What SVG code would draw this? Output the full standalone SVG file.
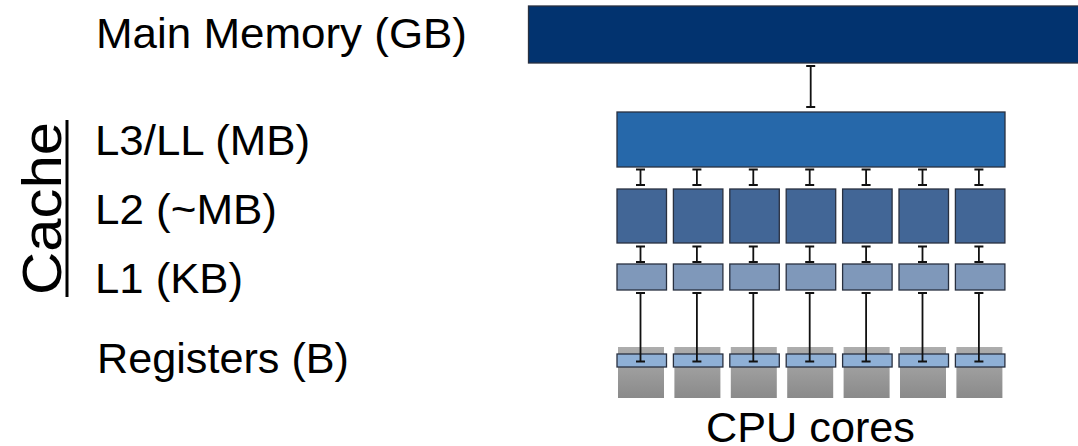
<svg xmlns="http://www.w3.org/2000/svg" width="1078" height="446" viewBox="0 0 1078 446">
  <defs>
    <linearGradient id="coreFill" x1="0" y1="0" x2="0" y2="1">
      <stop offset="0" stop-color="#adadad"/>
      <stop offset="1" stop-color="#8a8a8a"/>
    </linearGradient>
  </defs>
  <style>
    .lbl { font-family: "Liberation Sans", Arial, sans-serif; font-size: 42px; fill: #000; }
    .box { stroke: #283040; stroke-width: 1.3; }
    .mem { fill: #02336f; }
    .l3 { fill: #2668aa; }
    .l2 { fill: #426696; }
    .l1 { fill: #7f98ba; }
    .reg { fill: #8fb0d6; }
    .core { fill: url(#coreFill); }
    .link { stroke: #111; stroke-width: 1.8; fill: none; }
  </style>

  <rect width="1078" height="446" fill="#fff"/>

  <!-- level labels -->
  <g id="labels">
    <text class="lbl" x="96" y="48" textLength="371" lengthAdjust="spacingAndGlyphs">Main Memory (GB)</text>
    <text class="lbl" x="95" y="155" textLength="215" lengthAdjust="spacingAndGlyphs">L3/LL (MB)</text>
    <text class="lbl" x="95" y="224" textLength="182" lengthAdjust="spacingAndGlyphs">L2 (~MB)</text>
    <text class="lbl" x="95" y="293" textLength="148" lengthAdjust="spacingAndGlyphs">L1 (KB)</text>
    <text class="lbl" x="97" y="373" textLength="252" lengthAdjust="spacingAndGlyphs">Registers (B)</text>
    <text class="lbl" x="810.5" y="442" text-anchor="middle" textLength="209" lengthAdjust="spacingAndGlyphs">CPU cores</text>
  </g>

  <!-- vertical "Cache" bracket label -->
  <g id="cache-label">
    <text class="lbl" style="font-size:55px" transform="translate(61 208.5) rotate(-90)" text-anchor="middle" textLength="173" lengthAdjust="spacingAndGlyphs">Cache</text>
    <line x1="67" y1="120" x2="67" y2="297" stroke="#000" stroke-width="3"/>
  </g>

  <!-- main memory -->
  <g id="main-memory">
    <rect class="box mem" x="528.5" y="6" width="552" height="57"/>
  </g>

  <!-- shared last-level cache -->
  <g id="l3">
    <rect class="box l3" x="617" y="112" width="388" height="55"/>
  </g>

  <!-- per-core L2 -->
  <g id="l2">
    <rect class="box l2" x="617" y="189" width="49.5" height="54"/>
    <rect class="box l2" x="673.4" y="189" width="49.5" height="54"/>
    <rect class="box l2" x="729.8" y="189" width="49.5" height="54"/>
    <rect class="box l2" x="786.2" y="189" width="49.5" height="54"/>
    <rect class="box l2" x="842.6" y="189" width="49.5" height="54"/>
    <rect class="box l2" x="899" y="189" width="49.5" height="54"/>
    <rect class="box l2" x="955.4" y="189" width="49.5" height="54"/>
  </g>

  <!-- per-core L1 -->
  <g id="l1">
    <rect class="box l1" x="617" y="264" width="49.5" height="26"/>
    <rect class="box l1" x="673.4" y="264" width="49.5" height="26"/>
    <rect class="box l1" x="729.8" y="264" width="49.5" height="26"/>
    <rect class="box l1" x="786.2" y="264" width="49.5" height="26"/>
    <rect class="box l1" x="842.6" y="264" width="49.5" height="26"/>
    <rect class="box l1" x="899" y="264" width="49.5" height="26"/>
    <rect class="box l1" x="955.4" y="264" width="49.5" height="26"/>
  </g>

  <!-- CPU cores -->
  <g id="cores">
    <rect class="core" x="618" y="347" width="46" height="51"/>
    <rect class="core" x="674.4" y="347" width="46" height="51"/>
    <rect class="core" x="730.8" y="347" width="46" height="51"/>
    <rect class="core" x="787.2" y="347" width="46" height="51"/>
    <rect class="core" x="843.6" y="347" width="46" height="51"/>
    <rect class="core" x="900" y="347" width="46" height="51"/>
    <rect class="core" x="956.4" y="347" width="46" height="51"/>
  </g>

  <!-- registers -->
  <g id="registers">
    <rect class="box reg" x="617" y="354" width="49.5" height="13"/>
    <rect class="box reg" x="673.4" y="354" width="49.5" height="13"/>
    <rect class="box reg" x="729.8" y="354" width="49.5" height="13"/>
    <rect class="box reg" x="786.2" y="354" width="49.5" height="13"/>
    <rect class="box reg" x="842.6" y="354" width="49.5" height="13"/>
    <rect class="box reg" x="899" y="354" width="49.5" height="13"/>
    <rect class="box reg" x="955.4" y="354" width="49.5" height="13"/>
  </g>

  <!-- I-beam links between levels -->
  <g id="connectors" class="link">
    <path d="M810.7 66V107M806.2 66H815.2M806.2 107H815.2"/>

    <path d="M640.5 169.5V185M636 169.5H645M636 185H645"/>
    <path d="M696.9 169.5V185M692.4 169.5H701.4M692.4 185H701.4"/>
    <path d="M753.3 169.5V185M748.8 169.5H757.8M748.8 185H757.8"/>
    <path d="M809.7 169.5V185M805.2 169.5H814.2M805.2 185H814.2"/>
    <path d="M866.1 169.5V185M861.6 169.5H870.6M861.6 185H870.6"/>
    <path d="M922.5 169.5V185M918 169.5H927M918 185H927"/>
    <path d="M978.9 169.5V185M974.4 169.5H983.4M974.4 185H983.4"/>

    <path d="M640.5 246.5V262M636 246.5H645M636 262H645"/>
    <path d="M696.9 246.5V262M692.4 246.5H701.4M692.4 262H701.4"/>
    <path d="M753.3 246.5V262M748.8 246.5H757.8M748.8 262H757.8"/>
    <path d="M809.7 246.5V262M805.2 246.5H814.2M805.2 262H814.2"/>
    <path d="M866.1 246.5V262M861.6 246.5H870.6M861.6 262H870.6"/>
    <path d="M922.5 246.5V262M918 246.5H927M918 262H927"/>
    <path d="M978.9 246.5V262M974.4 246.5H983.4M974.4 262H983.4"/>

    <path d="M640.5 293V361.5M636 293H645M636 361.5H645"/>
    <path d="M696.9 293V361.5M692.4 293H701.4M692.4 361.5H701.4"/>
    <path d="M753.3 293V361.5M748.8 293H757.8M748.8 361.5H757.8"/>
    <path d="M809.7 293V361.5M805.2 293H814.2M805.2 361.5H814.2"/>
    <path d="M866.1 293V361.5M861.6 293H870.6M861.6 361.5H870.6"/>
    <path d="M922.5 293V361.5M918 293H927M918 361.5H927"/>
    <path d="M978.9 293V361.5M974.4 293H983.4M974.4 361.5H983.4"/>
  </g>
</svg>
